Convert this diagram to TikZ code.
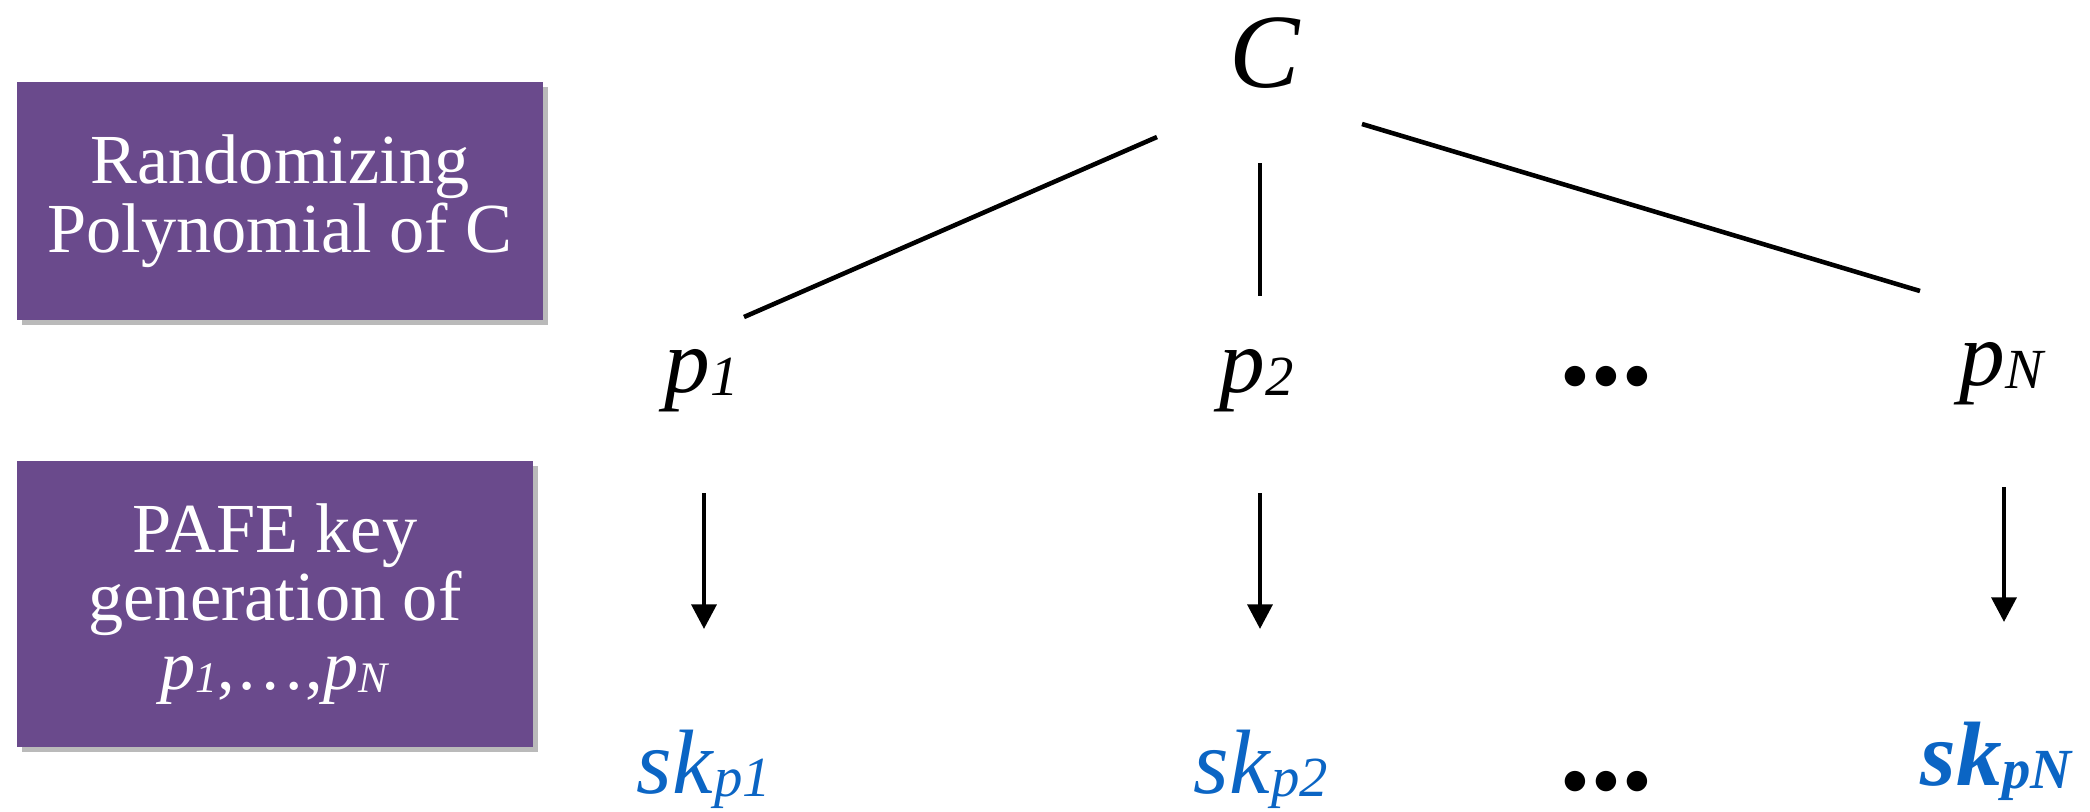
\documentclass[tikz,border=0pt]{standalone}
\usepackage{fontspec}
\usepackage{graphicx}
\setmainfont{Liberation Serif}
\newfontfamily\dotfont{DejaVu Sans}
\usetikzlibrary{positioning,arrows.meta,shadows}
\definecolor{plum}   {HTML}{6A4A8C}
\definecolor{keyblue}{HTML}{0B65C4}
\newcommand{\subvar}[2]{\textit{#1}\raisebox{-0.04em}{\scalebox{0.62}{\textit{#2}}}}
\newcommand{\moredots}{●\hspace{2.2pt}●\hspace{2.2pt}●}
\tikzset{
  >={Triangle[width=7pt,length=7pt]},
  % --- nodes
  stage/.style = {fill=plum, text=white, align=center, inner sep=0pt,
                  font=\fontsize{20}{19.5}\selectfont,
                  drop shadow={shadow xshift=0.05cm, shadow yshift=-0.05cm,
                               fill=black!60, opacity=0.45}},
  var/.style   = {anchor=base, inner sep=0pt, font=\fontsize{26}{26}\selectfont},
  key/.style   = {var, text=keyblue},
  more/.style  = {inner sep=0pt, font=\dotfont\fontsize{7.6}{8}\selectfont},
  % --- edges
  link/.style  = {line width=1.3pt, draw=black},
  arr/.style   = {link, ->},
}
\begin{document}
\begin{tikzpicture}[x=0.01cm, y=-0.01cm]
  \useasboundingbox (0,0) rectangle (2090,811);
  % row labels
  \node[stage, minimum width=5.26cm, minimum height=2.37cm] (rand) at (280,201)
       {Randomizing\\Polynomial of C};
  \node[stage, minimum width=5.16cm, minimum height=2.86cm] (kgen) at (275,604)
       {PAFE key\\generation of\\\subvar{p}{1},…,\subvar{p}{N}};
  % circuit and its polynomials
  \node[var, font=\fontsize{30}{30}\selectfont] (C) at (1265,87) {\textit{C}};
  \node[var] (p1) at (702,392) {\subvar{p}{1}};
  \node[var] (p2) at (1257,392) {\subvar{p}{2}};
  \node[more] (pdots) at (1606,377) {\moredots};
  \node[var] (pN) at (2003,385) {\subvar{p}{N}};
  % secret keys
  \node[key] (sk1) at (704,793) {\subvar{sk}{p1}};
  \node[key] (sk2) at (1261,793) {\subvar{sk}{p2}};
  \node[more] (skdots) at (1606,782) {\moredots};
  \node[key, font=\fontsize{26}{26}\selectfont\bfseries] (skN) at (1997,785) {\subvar{sk}{pN}};
  % line ends
  \coordinate (C-l) at (1157,137);  \coordinate (p1-t) at (744,317);
  \coordinate (C-m) at (1260,163);  \coordinate (p2-t) at (1260,296);
  \coordinate (C-r) at (1362,124);  \coordinate (pN-t) at (1920,291);
  \coordinate (p1-b) at (704,493);  \coordinate (sk1-t) at (704,629);
  \coordinate (p2-b) at (1260,493); \coordinate (sk2-t) at (1260,629);
  \coordinate (pN-b) at (2004,487); \coordinate (skN-t) at (2004,622);
  \draw[link] (C-l) -- (p1-t);
  \draw[link] (C-m) -- (p2-t);
  \draw[link] (C-r) -- (pN-t);
  \draw[arr] (p1-b) -- (sk1-t);
  \draw[arr] (p2-b) -- (sk2-t);
  \draw[arr] (pN-b) -- (skN-t);
\end{tikzpicture}
\end{document}
